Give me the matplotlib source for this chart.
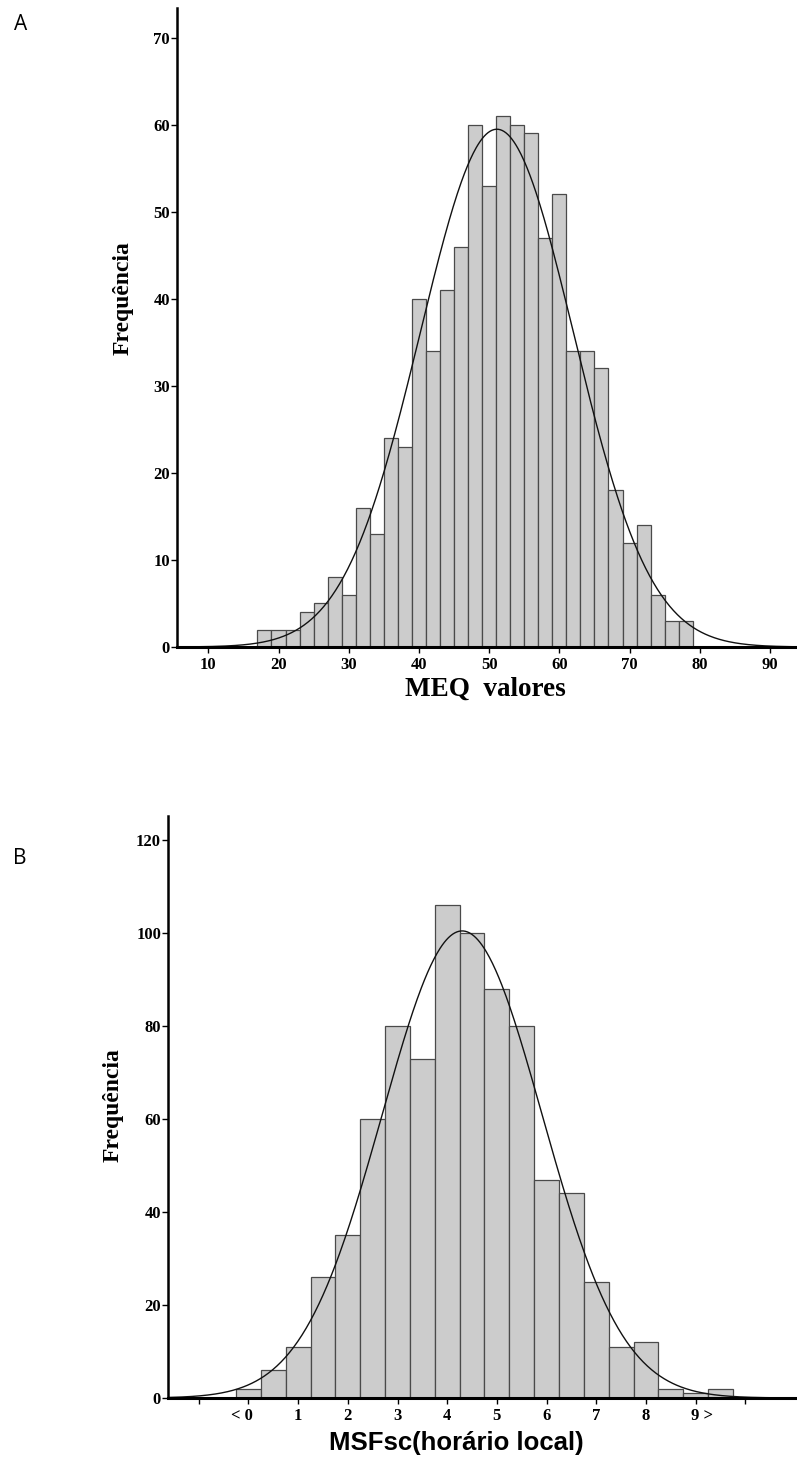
import numpy as np
import matplotlib
matplotlib.use("Agg")
import matplotlib.pyplot as plt
import matplotlib.transforms as mtransforms

# ---------------- data ----------------
# Panel A: MEQ values, bins of width 2 starting at 17
meq_bin_left = [17, 19, 21, 23, 25, 27, 29, 31, 33, 35, 37, 39, 41, 43, 45, 47,
                49, 51, 53, 55, 57, 59, 61, 63, 65, 67, 69, 71, 73, 75, 77]
meq_counts = [2, 2, 2, 4, 5, 8, 6, 16, 13, 24, 23, 40, 34, 41, 46, 60,
              53, 61, 60, 59, 47, 52, 34, 34, 32, 18, 12, 14, 6, 3, 3]
meq_binwidth = 2
meq_mean = 51.1
meq_sd = 10.92
meq_xticks = [10, 20, 30, 40, 50, 60, 70, 80, 90]
meq_yticks = [0, 10, 20, 30, 40, 50, 60, 70]

# Panel B: MSFsc, bins of width 0.5 centred on 0, 0.5, ... 9.5
msf_centers = [0, 0.5, 1, 1.5, 2, 2.5, 3, 3.5, 4, 4.5, 5, 5.5, 6, 6.5, 7, 7.5,
               8, 8.5, 9, 9.5]
msf_counts = [2, 6, 11, 26, 35, 60, 80, 73, 106, 100, 88, 80, 47, 44, 25, 11,
              12, 2, 1, 2]
msf_binwidth = 0.5
msf_mean = 4.3
msf_sd = 1.61
msf_xticks = [-1, 0, 1, 2, 3, 4, 5, 6, 7, 8, 9, 10]
msf_xticklabels = ["", "< 0", "1", "2", "3", "4", "5", "6", "7", "8", "9 >", ""]
msf_yticks = [0, 20, 40, 60, 80, 100, 120]

# ---------------- style ----------------
W, H = 797, 1463
fig = plt.figure(figsize=(W / 100, H / 100), dpi=100)
serif = "Liberation Serif"
bar_fc = "#cccccc"
bar_ec = "#4a4a4a"
TICK_FS = 12


def px(x0, y0, x1, y1):
    """pixel box (left, top, right, bottom) -> figure fraction rect"""
    return [x0 / W, 1 - y1 / H, (x1 - x0) / W, (y1 - y0) / H]


def style_axes(ax):
    for s in ("top", "right"):
        ax.spines[s].set_visible(False)
    ax.spines["left"].set_linewidth(1.8)
    ax.spines["bottom"].set_linewidth(2.2)
    ax.tick_params(axis="y", direction="out", length=4, width=1, pad=1,
                   labelsize=TICK_FS)
    ax.tick_params(axis="x", direction="out", length=4, width=1, pad=3,
                   labelsize=TICK_FS)
    for lab in ax.get_xticklabels() + ax.get_yticklabels():
        lab.set_fontfamily(serif)
        lab.set_fontweight("bold")


def normal_curve(x, n, bw, mu, sd):
    return n * bw / (sd * np.sqrt(2 * np.pi)) * np.exp(-0.5 * ((x - mu) / sd) ** 2)


# ---------------- panel A ----------------
axA = fig.add_axes(px(177, 8, 797, 647))
axA.bar(meq_bin_left, meq_counts, width=meq_binwidth, align="edge",
        facecolor=bar_fc, edgecolor=bar_ec, linewidth=0.9)
xa = np.linspace(8, 93, 600)
axA.plot(xa, normal_curve(xa, sum(meq_counts), meq_binwidth, meq_mean, meq_sd),
         color="#111111", linewidth=1.0)
axA.set_xlim(5.54, 93.85)
axA.set_ylim(0, 73.4)
axA.set_xticks(meq_xticks)
axA.set_yticks(meq_yticks)
style_axes(axA)

fig.text(123 / W, 1 - 298 / H, "Frequência", rotation=90, ha="center",
         va="center", fontfamily=serif, fontweight="bold", fontsize=17)
fig.text(485 / W, 1 - 689 / H, "MEQ  valores", ha="center", va="center",
         fontfamily=serif, fontweight="bold", fontsize=19.5)
fig.text(21 / W, 1 - 25 / H, "A", ha="center", va="center",
         fontfamily="Open Sans", fontsize=15)

# ---------------- panel B ----------------
axB = fig.add_axes(px(168, 816, 797, 1398))
axB.bar(msf_centers, msf_counts, width=msf_binwidth, align="center",
        facecolor=bar_fc, edgecolor=bar_ec, linewidth=0.9)
xb = np.linspace(-1.62, 11.0, 600)
axB.plot(xb, normal_curve(xb, sum(msf_counts), msf_binwidth, msf_mean, msf_sd),
         color="#111111", linewidth=1.0)
axB.set_xlim(-1.62, 11.04)
axB.set_ylim(0, 125.2)
axB.set_xticks(msf_xticks)
axB.set_xticklabels(msf_xticklabels)
axB.set_yticks(msf_yticks)
style_axes(axB)

# keep the digit of "< 0" and "9 >" centred on its tick
labs = axB.get_xticklabels()
shift = 4.2 / 100
labs[1].set_horizontalalignment("right")
labs[1].set_transform(labs[1].get_transform() +
                      mtransforms.ScaledTranslation(shift, 0, fig.dpi_scale_trans))
labs[10].set_horizontalalignment("left")
labs[10].set_transform(labs[10].get_transform() +
                       mtransforms.ScaledTranslation(-shift, 0, fig.dpi_scale_trans))

fig.text(113 / W, 1 - 1105 / H, "Frequência", rotation=90, ha="center",
         va="center", fontfamily=serif, fontweight="bold", fontsize=17)
fig.text(456 / W, 1 - 1443 / H, "MSFsc(horário local)", ha="center",
         va="center", fontfamily="Liberation Sans", fontweight="bold",
         fontsize=18.5)
fig.text(20 / W, 1 - 858 / H, "B", ha="center", va="center",
         fontfamily="Open Sans", fontsize=15)

fig.savefig("out.png", dpi=100)
